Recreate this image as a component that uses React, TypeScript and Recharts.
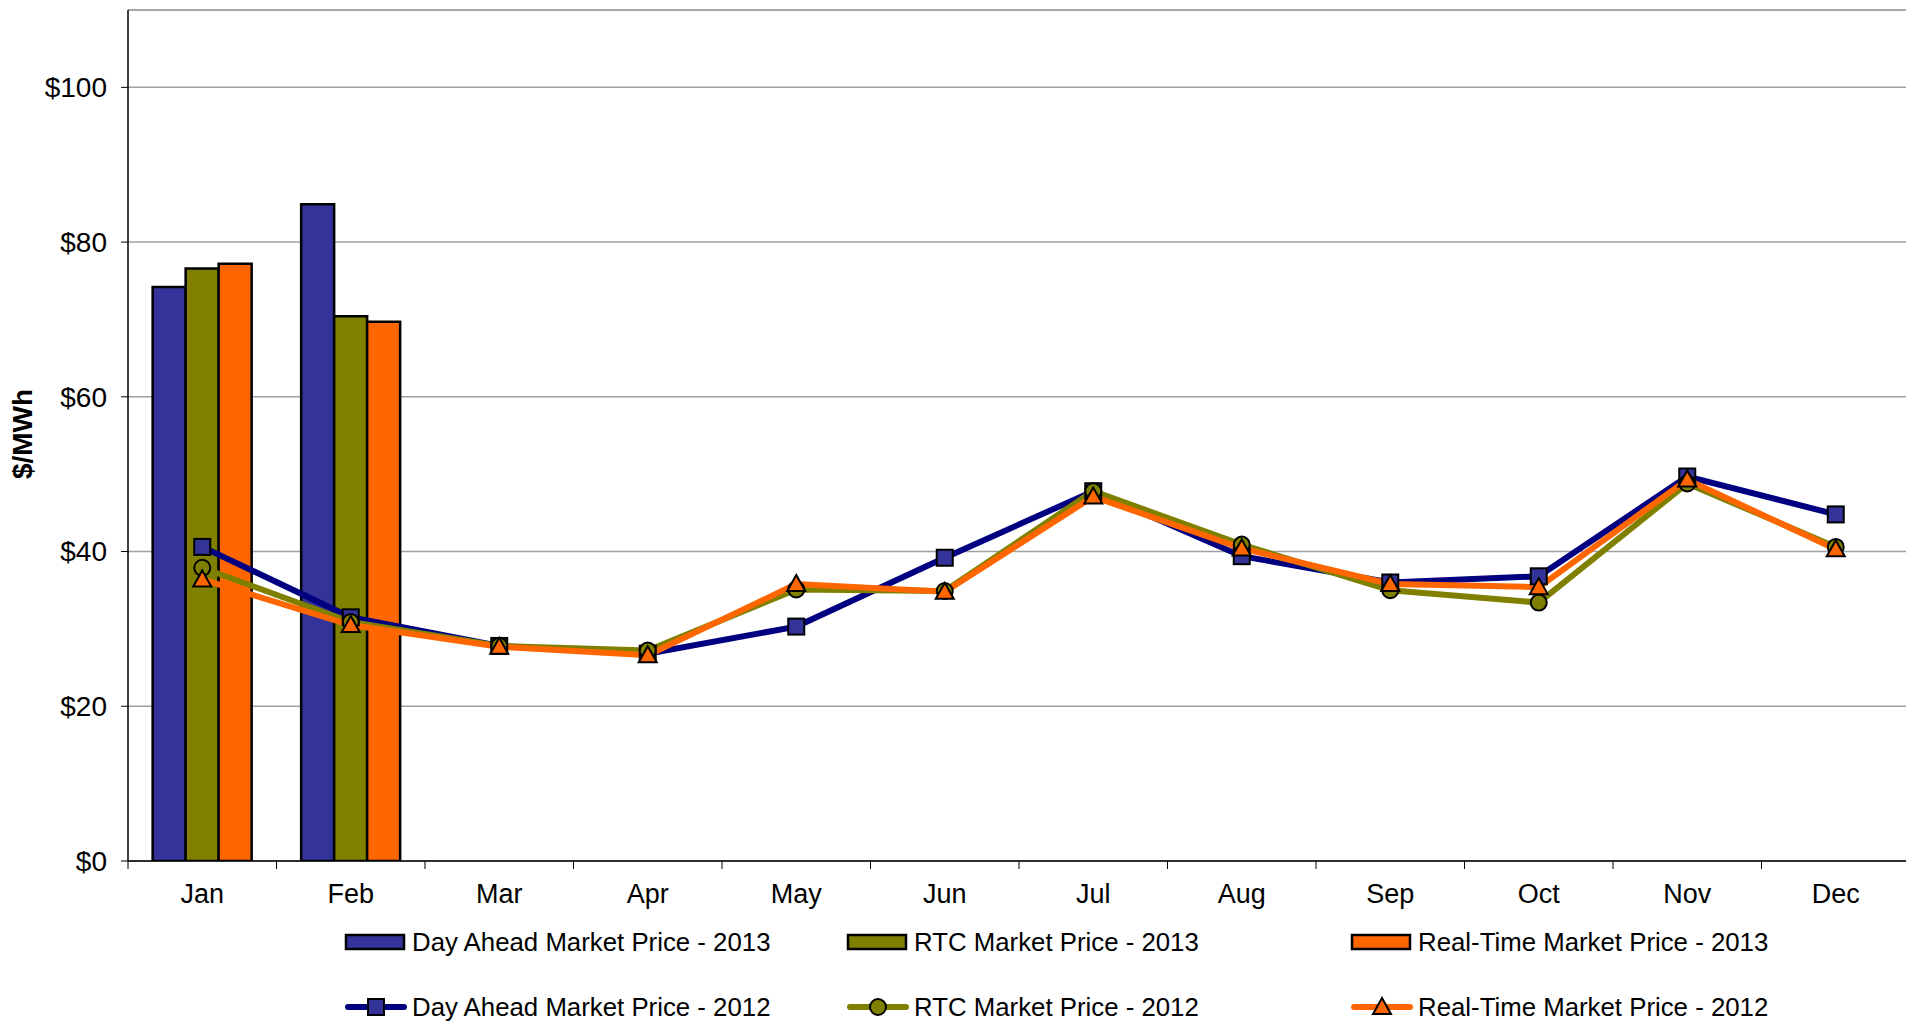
import React from "react"
import {
  ComposedChart,
  Bar,
  Line,
  XAxis,
  YAxis,
  CartesianGrid,
  ReferenceLine,
  Label,
} from "recharts"

const months = ["Jan", "Feb", "Mar", "Apr", "May", "Jun", "Jul", "Aug", "Sep", "Oct", "Nov", "Dec"]

// 2013 bars (only Jan, Feb available)
const dayAhead2013 = [74.2, 84.9]
const rtc2013 = [76.6, 70.4]
const realTime2013 = [77.2, 69.7]

// 2012 lines
const dayAhead2012 = [40.6, 31.5, 27.8, 26.8, 30.3, 39.2, 47.8, 39.4, 36.0, 36.8, 49.7, 44.8]
const rtc2012 = [37.9, 30.9, 27.8, 27.2, 35.1, 34.9, 47.8, 40.9, 35.0, 33.4, 48.8, 40.6]
const realTime2012 = [36.4, 30.5, 27.7, 26.6, 35.8, 34.8, 47.1, 40.4, 35.8, 35.4, 49.3, 40.3]

const yTicks = [0, 20, 40, 60, 80, 100]

const data = months.map((m, i) => ({
  month: m,
  da13: dayAhead2013[i],
  rtc13: rtc2013[i],
  rt13: realTime2013[i],
  da12: dayAhead2012[i],
  rtc12: rtc2012[i],
  rt12: realTime2012[i],
}))

const W = 1906
const H = 1023
const AXIS_W = 128
const RIGHT = -4
const BAND = (W - AXIS_W - RIGHT) / months.length
const FONT = "'Liberation Sans', Arial, sans-serif"

const BLUE = "#333399"
const NAVY = "#000080"
const OLIVE = "#808000"
const ORANGE = "#FF6600"

const SquareDot = (props: any) => {
  const { cx, cy } = props
  if (cx == null || cy == null) return null
  return <rect x={cx - 8} y={cy - 8} width={16} height={16} fill={BLUE} stroke="#000" strokeWidth={2} />
}

const CircleDot = (props: any) => {
  const { cx, cy } = props
  if (cx == null || cy == null) return null
  return <circle cx={cx} cy={cy} r={8} fill={OLIVE} stroke="#000" strokeWidth={2} />
}

const TriangleDot = (props: any) => {
  const { cx, cy } = props
  if (cx == null || cy == null) return null
  return (
    <polygon
      points={`${cx},${cy - 9} ${cx + 9},${cy + 7} ${cx - 9},${cy + 7}`}
      fill={ORANGE}
      stroke="#000"
      strokeWidth={2}
    />
  )
}

const MonthTick = (props: any) => {
  const { x, y, payload } = props
  return (
    <g>
      <line x1={x - BAND / 2} y1={y - 8} x2={x - BAND / 2} y2={y} stroke="#000" strokeWidth={1} />
      <text x={x} y={y + 25} textAnchor="middle" dominantBaseline="central" fontSize={27} fontFamily={FONT} fill="#000">
        {payload.value}
      </text>
    </g>
  )
}

const legendBars = [
  { name: "Day Ahead Market Price - 2013", color: BLUE },
  { name: "RTC Market Price - 2013", color: OLIVE },
  { name: "Real-Time Market Price - 2013", color: ORANGE },
]
const legendLines = [
  { name: "Day Ahead Market Price - 2012", color: NAVY, marker: "square" },
  { name: "RTC Market Price - 2012", color: OLIVE, marker: "circle" },
  { name: "Real-Time Market Price - 2012", color: ORANGE, marker: "triangle" },
]
const legendX = [346, 848, 1352]

function ChartLegend() {
  const rowA = 942
  const rowB = 1007
  return (
    <svg width={W} height={H} style={{ position: "absolute", left: 0, top: 0, pointerEvents: "none" }}>
      {legendBars.map((b, i) => (
        <g key={b.name}>
          <rect x={legendX[i]} y={rowA - 7} width={58} height={14} fill={b.color} stroke="#000" strokeWidth={2.5} />
          <text x={legendX[i] + 66} y={rowA} dominantBaseline="central" fontSize={25.8} fontFamily={FONT} fill="#000">
            {b.name}
          </text>
        </g>
      ))}
      {legendLines.map((l, i) => {
        const cx = legendX[i] + 30
        return (
          <g key={l.name}>
            <line x1={legendX[i] + 2} y1={rowB} x2={legendX[i] + 58} y2={rowB} stroke={l.color} strokeWidth={6} strokeLinecap="round" />
            {l.marker === "square" && <SquareDot cx={cx} cy={rowB} />}
            {l.marker === "circle" && <CircleDot cx={cx} cy={rowB} />}
            {l.marker === "triangle" && <TriangleDot cx={cx} cy={rowB} />}
            <text x={legendX[i] + 66} y={rowB} dominantBaseline="central" fontSize={25.8} fontFamily={FONT} fill="#000">
              {l.name}
            </text>
          </g>
        )
      })}
    </svg>
  )
}

export default function App() {
  return (
    <div style={{ position: "absolute", left: 0, top: 0, width: W, height: H, background: "#fff", overflow: "hidden" }}>
      <ComposedChart
        width={W}
        height={H}
        data={data}
        margin={{ top: 10, right: RIGHT, bottom: 122, left: 0 }}
        barCategoryGap="16.6%"
        barGap={0}
      >
        <CartesianGrid horizontal vertical={false} stroke="#a0a0a0" strokeWidth={1.5} />
        <ReferenceLine y={110} stroke="#a0a0a0" strokeWidth={1.5} />
        <XAxis
          dataKey="month"
          height={40}
          axisLine={{ stroke: "#000", strokeWidth: 1.5 }}
          tickLine={false}
          tick={<MonthTick />}
          interval={0}
        />
        <YAxis
          width={AXIS_W}
          domain={[0, 110]}
          ticks={yTicks}
          allowDataOverflow
          tickFormatter={(v: number) => `$${v}`}
          tick={{ fontSize: 28, fontFamily: FONT, fill: "#000" }}
          tickSize={7}
          tickMargin={14}
          tickLine={{ stroke: "#000" }}
          axisLine={{ stroke: "#000", strokeWidth: 1.5 }}
        >
          <Label
            content={() => (
              <text
                x={22}
                y={434}
                transform="rotate(-90, 22, 434)"
                textAnchor="middle"
                dominantBaseline="central"
                fontSize={28}
                fontWeight="bold"
                fontFamily={FONT}
                fill="#000"
              >
                $/MWh
              </text>
            )}
          />
        </YAxis>
        <Bar dataKey="da13" fill={BLUE} stroke="#000" strokeWidth={2.5} isAnimationActive={false} />
        <Bar dataKey="rtc13" fill={OLIVE} stroke="#000" strokeWidth={2.5} isAnimationActive={false} />
        <Bar dataKey="rt13" fill={ORANGE} stroke="#000" strokeWidth={2.5} isAnimationActive={false} />
        <Line dataKey="da12" type="linear" stroke={NAVY} strokeWidth={6} dot={<SquareDot />} activeDot={false} isAnimationActive={false} />
        <Line dataKey="rtc12" type="linear" stroke={OLIVE} strokeWidth={6} dot={<CircleDot />} activeDot={false} isAnimationActive={false} />
        <Line dataKey="rt12" type="linear" stroke={ORANGE} strokeWidth={6} dot={<TriangleDot />} activeDot={false} isAnimationActive={false} />
      </ComposedChart>
      <ChartLegend />
    </div>
  )
}
